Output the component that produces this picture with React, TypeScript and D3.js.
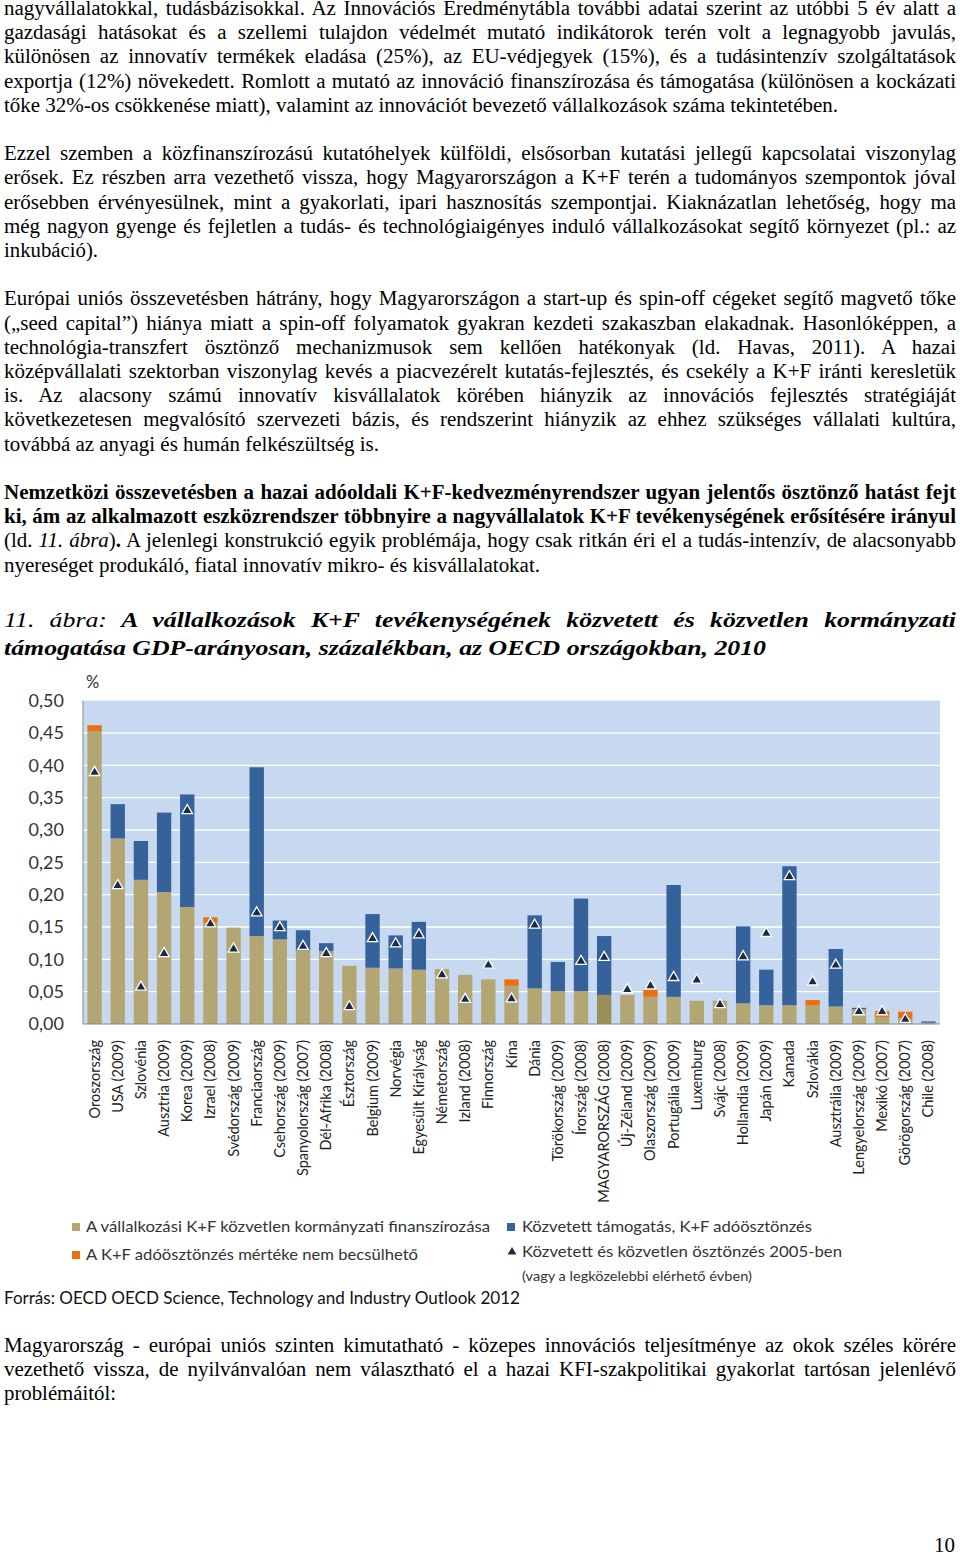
import React, { useEffect, useRef } from "react";
import * as d3 from "d3";

// ---------------- Chart data ----------------
const COUNTRIES = [
  "Oroszország", "USA (2009)", "Szlovénia", "Ausztria (2009)", "Korea (2009)", "Izrael (2008)",
  "Svédország (2009)", "Franciaország", "Csehország (2009)", "Spanyolország (2007)", "Dél-Afrika (2008)",
  "Észtország", "Belgium (2009)", "Norvégia", "Egyesült Királyság", "Németország", "Izland (2008)",
  "Finnország", "Kína", "Dánia", "Törökország (2009)", "Írország (2008)", "MAGYARORSZÁG (2008)",
  "Új-Zéland (2009)", "Olaszország (2009)", "Portugália (2009)", "Luxemburg", "Svájc (2008)",
  "Hollandia (2009)", "Japán (2009)", "Kanada", "Szlovákia", "Ausztrália (2009)",
  "Lengyelország (2009)", "Mexikó (2007)", "Görögország (2007)", "Chile (2008)",
];
// direct government funding of business R&D (% of GDP)
const DIRECT = [
  0.453, 0.287, 0.223, 0.204, 0.181, 0.157, 0.149, 0.136, 0.131, 0.114, 0.113,
  0.090, 0.087, 0.086, 0.084, 0.085, 0.076, 0.069, 0.059, 0.055, 0.051, 0.051, 0.045,
  0.045, 0.042, 0.042, 0.036, 0.036, 0.032, 0.029, 0.029, 0.029, 0.027,
  0.023, 0.011, 0.009, 0.002,
];
// indirect support, R&D tax incentives
const INDIRECT = [
  0, 0.053, 0.060, 0.123, 0.174, 0, 0, 0.261, 0.029, 0.031, 0.012,
  0, 0.083, 0.051, 0.074, 0, 0, 0, 0, 0.113, 0.045, 0.143, 0.091,
  0, 0, 0.173, 0, 0, 0.119, 0.055, 0.215, 0, 0.089,
  0.002, 0, 0, 0.002,
];
// tax incentive not estimable
const NOT_ESTIMABLE = [
  0.009, 0, 0, 0, 0, 0.008, 0, 0, 0, 0, 0,
  0, 0, 0, 0, 0, 0, 0, 0.010, 0, 0, 0, 0,
  0, 0.011, 0, 0, 0, 0, 0, 0, 0.008, 0,
  0, 0.009, 0.010, 0,
];
// total direct + indirect in 2005
const TOTAL_2005: (number | null)[] = [
  0.389, 0.214, 0.057, 0.109, 0.330, 0.155, 0.116, 0.172, 0.149, 0.120, 0.109,
  0.027, 0.132, 0.124, 0.138, 0.076, 0.038, 0.091, 0.039, 0.153, null, 0.097, 0.103,
  0.053, 0.059, 0.072, 0.068, 0.030, 0.104, 0.140, 0.228, 0.065, 0.091,
  0.019, 0.019, 0.007, null,
];
const Y_TICKS = [0, 0.05, 0.1, 0.15, 0.2, 0.25, 0.3, 0.35, 0.4, 0.45, 0.5];
const HIGHLIGHT = "MAGYARORSZÁG (2008)";

const LEGEND_DIRECT = "A vállalkozási K+F közvetlen kormányzati finanszírozása";
const LEGEND_INDIRECT = "Közvetett támogatás, K+F adóösztönzés";
const LEGEND_NOTEST = "A K+F adóösztönzés mértéke nem becsülhető";
const LEGEND_TOTAL = "Közvetett és közvetlen ösztönzés 2005-ben";
const LEGEND_TOTAL2 = "(vagy a legközelebbi elérhető évben)";
const SOURCE = "Forrás: OECD OECD Science, Technology and Industry Outlook 2012";

// ---------------- Body text ----------------
type Seg = { t: string; b?: boolean; i?: boolean };
const P1 = [
  "nagyvállalatokkal, tudásbázisokkal. Az Innovációs Eredménytábla további adatai szerint az utóbbi 5 év alatt a",
  "gazdasági hatásokat és a szellemi tulajdon védelmét mutató indikátorok terén volt a legnagyobb javulás,",
  "különösen az innovatív termékek eladása (25%), az EU-védjegyek (15%), és a tudásintenzív szolgáltatások",
  "exportja (12%) növekedett. Romlott a mutató az innováció finanszírozása és támogatása (különösen a kockázati",
  "tőke 32%-os csökkenése miatt), valamint az innovációt bevezető vállalkozások száma tekintetében.",
];
const P2 = [
  "Ezzel szemben a közfinanszírozású kutatóhelyek külföldi, elsősorban kutatási jellegű kapcsolatai viszonylag",
  "erősek. Ez részben arra vezethető vissza, hogy Magyarországon a K+F terén a tudományos szempontok jóval",
  "erősebben érvényesülnek, mint a gyakorlati, ipari hasznosítás szempontjai. Kiaknázatlan lehetőség, hogy ma",
  "még nagyon gyenge és fejletlen a tudás- és technológiaigényes induló vállalkozásokat segítő környezet (pl.: az",
  "inkubáció).",
];
const P3 = [
  "Európai uniós összevetésben hátrány, hogy Magyarországon a start-up és spin-off cégeket segítő magvető tőke",
  "(„seed capital”) hiánya miatt a spin-off folyamatok gyakran kezdeti szakaszban elakadnak. Hasonlóképpen, a",
  "technológia-transzfert ösztönző mechanizmusok sem kellően hatékonyak (ld. Havas, 2011). A hazai",
  "középvállalati szektorban viszonylag kevés a piacvezérelt kutatás-fejlesztés, és csekély a K+F iránti keresletük",
  "is. Az alacsony számú innovatív kisvállalatok körében hiányzik az innovációs fejlesztés stratégiáját",
  "következetesen megvalósító szervezeti bázis, és rendszerint hiányzik az ehhez szükséges vállalati kultúra,",
  "továbbá az anyagi és humán felkészültség is.",
];
const P4: Seg[][] = [
  [{ t: "Nemzetközi összevetésben a hazai adóoldali K+F-kedvezményrendszer ugyan jelentős ösztönző hatást fejt", b: true }],
  [{ t: "ki, ám az alkalmazott eszközrendszer többnyire a nagyvállalatok K+F tevékenységének erősítésére irányul", b: true }],
  [
    { t: "(ld. " },
    { t: "11. ábra", i: true },
    { t: ")" },
    { t: ".", b: true },
    { t: " A jelenlegi konstrukció egyik problémája, hogy csak ritkán éri el a tudás-intenzív, de alacsonyabb" },
  ],
  [{ t: "nyereséget produkáló, fiatal innovatív mikro- és kisvállalatokat." }],
];
const TITLE: Seg[][] = [
  [
    { t: "11. ábra:", i: true },
    { t: " A vállalkozások K+F tevékenységének közvetett és közvetlen kormányzati", b: true, i: true },
  ],
  [{ t: "támogatása GDP-arányosan, százalékban, az OECD országokban, 2010", b: true, i: true }],
];
const P5 = [
  "Magyarország - európai uniós szinten kimutatható - közepes innovációs teljesítménye az okok széles körére",
  "vezethető vissza, de nyilvánvalóan nem választható el a hazai KFI-szakpolitikai gyakorlat tartósan jelenlévő",
  "problémáitól:",
];
const PAGE_NUMBER = "10";

const SERIF = "'Liberation Serif', 'Times New Roman', Times, serif";
const SANS = "Lato, 'Open Sans', sans-serif";

const C_DIRECT = "#b3a672";
const C_DIRECT_HU = "#9b8f58";
const C_INDIRECT = "#35629a";
const C_NOTEST = "#e8700f";
const C_TRI = "#1c2a48";
const C_BG = "#c6d9f0";

export default function App() {
  const ref = useRef<SVGSVGElement>(null);

  useEffect(() => {
    const svg = d3.select(ref.current);
    svg.selectAll("*").remove();

    const L = 4;
    const R = 956;
    const toSegs = (s: Seg[] | string): Seg[] => (typeof s === "string" ? [{ t: s }] : s);

    function build(parent: any, segs: Seg[], size: number) {
      const t = parent
        .append("text")
        .attr("x", 0)
        .attr("y", 0)
        .attr("font-family", SERIF)
        .attr("font-size", size)
        .attr("fill", "#000")
        .style("white-space", "pre");
      segs.forEach((sg) => {
        t.append("tspan")
          .attr("font-weight", sg.b ? "bold" : "normal")
          .attr("font-style", sg.i ? "italic" : "normal")
          .text(sg.t);
      });
      return t;
    }
    function measure(segs: Seg[], size: number) {
      const t = build(svg, segs, size);
      const len = (t.node() as SVGTextElement).getComputedTextLength();
      t.remove();
      return len;
    }
    // horizontal stretch factor from lines with a known (unjustified) width
    function stretch(items: [Seg[], number][], size: number) {
      let a = 0;
      let b = 0;
      items.forEach(([s, w]) => {
        a += w;
        b += measure(s, size);
      });
      return a / b;
    }

    function line(y: number, s: Seg[] | string, size: number, sx: number, opts: { justify?: boolean; endX?: number }) {
      const segs = toSegs(s);
      const g = svg.append("g").attr("transform", `translate(${L},${y}) scale(${sx},1)`);
      const t = build(g, segs, size);
      const len = (t.node() as SVGTextElement).getComputedTextLength();
      const full = segs.map((x) => x.t).join("");
      const n = (full.match(/ /g) || []).length;
      if (opts.justify && n > 0) {
        const W = (R - L) / sx;
        const ws = (W - len) / n;
        if (ws > -2.5) t.attr("word-spacing", ws);
        else t.attr("textLength", W).attr("lengthAdjust", "spacingAndGlyphs");
      } else if (opts.endX) {
        t.attr("textLength", (opts.endX - L) / sx).attr("lengthAdjust", "spacingAndGlyphs");
      }
    }

    const BODY = 20;
    const sxBody = stretch(
      [
        [toSegs(P1[4]), 834],
        [toSegs(P3[6]), 375],
        [P4[3], 536],
      ],
      BODY
    );
    const pitch = 24.2;
    const base0 = 15;
    const row = (k: number) => base0 + k * pitch;

    P1.forEach((s, k) => line(row(k), s, BODY, sxBody, k < P1.length - 1 ? { justify: true } : { endX: 838 }));
    P2.forEach((s, k) => line(row(6 + k), s, BODY, sxBody, k < P2.length - 1 ? { justify: true } : { endX: 98 }));
    P3.forEach((s, k) => line(row(12 + k), s, BODY, sxBody, k < P3.length - 1 ? { justify: true } : { endX: 379 }));
    P4.forEach((s, k) => line(row(20 + k), s, BODY, sxBody, k < P4.length - 1 ? { justify: true } : { endX: 540 }));

    const TSIZE = 22;
    const sxTitle = stretch([[TITLE[1], 762]], TSIZE);
    line(627, TITLE[0], TSIZE, sxTitle, { justify: true });
    line(655, TITLE[1], TSIZE, sxTitle, { endX: 766 });

    P5.forEach((s, k) => line(1352 + k * pitch, s, BODY, sxBody, k < P5.length - 1 ? { justify: true } : { endX: 116 }));

    svg
      .append("text")
      .attr("x", 955)
      .attr("y", 1552)
      .attr("text-anchor", "end")
      .attr("font-family", SERIF)
      .attr("font-size", 21)
      .text(PAGE_NUMBER);

    // ---------- chart ----------
    const x0 = 83;
    const x1 = 940;
    const yTop = 700.7;
    const yBot = 1024;
    const x = d3.scaleBand<string>().domain(COUNTRIES).range([x0, x1]).paddingInner(0.38).paddingOuter(0.19);
    const y = d3.scaleLinear().domain([0, 0.5]).range([yBot, yTop]);

    const chart = svg.append("g");
    chart.append("rect").attr("x", x0).attr("y", yTop).attr("width", x1 - x0).attr("height", yBot - yTop).attr("fill", C_BG);

    chart
      .selectAll("line.grid")
      .data(Y_TICKS.filter((v) => v > 0 && v < 0.5))
      .join("line")
      .attr("x1", x0)
      .attr("x2", x1)
      .attr("y1", (d) => y(d))
      .attr("y2", (d) => y(d))
      .attr("stroke", "#fff")
      .attr("stroke-width", 1.3);

    const fmt = (v: number) => d3.format(".2f")(v).replace(".", ",");
    chart
      .selectAll("text.ytick")
      .data(Y_TICKS)
      .join("text")
      .attr("x", 64)
      .attr("y", (d) => y(d))
      .attr("dy", "0.35em")
      .attr("text-anchor", "end")
      .attr("font-family", SANS)
      .attr("font-size", 18)
      .attr("fill", "#333")
      .text(fmt);

    chart
      .append("text")
      .attr("x", 86)
      .attr("y", 688)
      .attr("font-family", SANS)
      .attr("font-size", 16.5)
      .attr("fill", "#333")
      .text("%");

    const bw = x.bandwidth();
    const stacks = COUNTRIES.map((c, i) => ({
      c,
      d: DIRECT[i],
      ind: INDIRECT[i],
      ne: NOT_ESTIMABLE[i],
      t: TOTAL_2005[i],
    }));

    chart
      .selectAll("rect.direct")
      .data(stacks)
      .join("rect")
      .attr("x", (s) => x(s.c)!)
      .attr("width", bw)
      .attr("y", (s) => y(s.d))
      .attr("height", (s) => y(0) - y(s.d))
      .attr("fill", (s) => (s.c === HIGHLIGHT ? C_DIRECT_HU : C_DIRECT));

    chart
      .selectAll("rect.indirect")
      .data(stacks.filter((s) => s.ind > 0))
      .join("rect")
      .attr("x", (s) => x(s.c)!)
      .attr("width", bw)
      .attr("y", (s) => y(s.d + s.ind))
      .attr("height", (s) => y(s.d) - y(s.d + s.ind))
      .attr("fill", C_INDIRECT);

    chart
      .selectAll("rect.notest")
      .data(stacks.filter((s) => s.ne > 0))
      .join("rect")
      .attr("x", (s) => x(s.c)!)
      .attr("width", bw)
      .attr("y", (s) => y(s.d + s.ind + s.ne))
      .attr("height", (s) => y(s.d + s.ind) - y(s.d + s.ind + s.ne))
      .attr("fill", C_NOTEST);

    const tri = d3.symbol().type(d3.symbolTriangle).size(48);
    chart
      .selectAll("path.tri")
      .data(stacks.filter((s) => s.t !== null))
      .join("path")
      .attr("d", tri as any)
      .attr("transform", (s) => `translate(${x(s.c)! + bw / 2},${y(s.t as number)})`)
      .attr("fill", C_TRI)
      .attr("stroke", "#fff")
      .attr("stroke-width", 1.3);

    chart.append("line").attr("x1", x0).attr("x2", x0).attr("y1", yTop).attr("y2", yBot).attr("stroke", "#8a8a8a").attr("stroke-width", 1);
    chart.append("line").attr("x1", x0).attr("x2", x1).attr("y1", yBot).attr("y2", yBot).attr("stroke", "#8a8a8a").attr("stroke-width", 1.2);

    chart
      .selectAll("text.cat")
      .data(COUNTRIES)
      .join("text")
      .attr("transform", (c) => `translate(${x(c)! + bw / 2 + 5},1040) rotate(-90)`)
      .attr("text-anchor", "end")
      .attr("font-family", SANS)
      .attr("font-size", 14.5)
      .attr("fill", "#222")
      .text((c) => c);

    // legend
    const lg = svg.append("g").attr("font-family", SANS).attr("fill", "#333");
    const sq = (xx: number, yy: number, col: string) =>
      lg.append("rect").attr("x", xx).attr("y", yy - 4).attr("width", 8).attr("height", 8).attr("fill", col);
    const lt = (xx: number, yy: number, txt: string, endX: number, size = 16) =>
      lg
        .append("text")
        .attr("x", xx)
        .attr("y", yy)
        .attr("dy", "0.35em")
        .attr("font-size", size)
        .attr("textLength", endX - xx)
        .attr("lengthAdjust", "spacingAndGlyphs")
        .text(txt);
    sq(72, 1227, C_DIRECT);
    lt(86, 1226, LEGEND_DIRECT, 490);
    sq(507, 1227, C_INDIRECT);
    lt(522, 1226, LEGEND_INDIRECT, 812);
    sq(72, 1255, C_NOTEST);
    lt(86, 1254, LEGEND_NOTEST, 418);
    lg.append("path")
      .attr("d", d3.symbol().type(d3.symbolTriangle).size(34)() as string)
      .attr("transform", "translate(512,1252)")
      .attr("fill", C_TRI);
    lt(522, 1251, LEGEND_TOTAL, 842);
    lt(522, 1276, LEGEND_TOTAL2, 752, 13.5);
    lg.append("text")
      .attr("x", 4)
      .attr("y", 1298)
      .attr("dy", "0.35em")
      .attr("font-size", 17)
      .attr("fill", "#111")
      .attr("textLength", 516)
      .attr("lengthAdjust", "spacingAndGlyphs")
      .text(SOURCE);
  }, []);

  return (
    <svg
      ref={ref}
      width={960}
      height={1557}
      style={{ position: "absolute", left: 0, top: 0, background: "#fff", display: "block" }}
    />
  );
}
